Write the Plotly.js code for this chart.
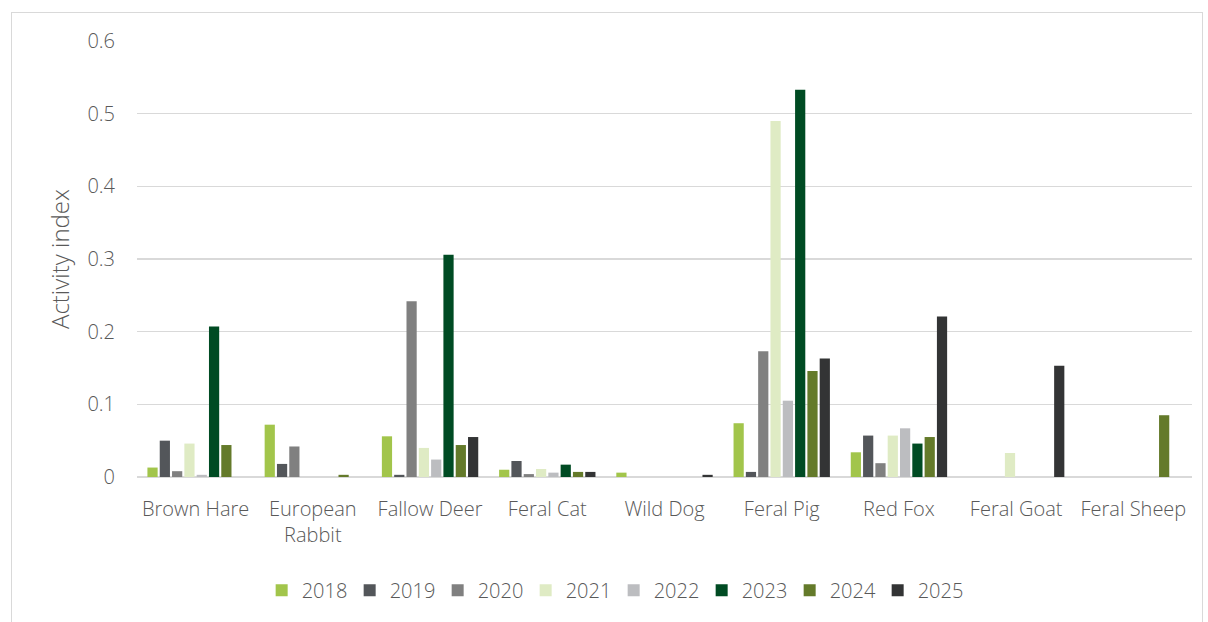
<!DOCTYPE html>
<html>
<head>
<meta charset="utf-8">
<script src="https://cdn.plot.ly/plotly-3.0.1.min.js"></script>
<style>
  html, body { margin: 0; padding: 0; background: #fff; }
  #wrap { position: relative; width: 1208px; height: 622px; overflow: hidden; }
  #frame { position: absolute; left: 11px; top: 12px; width: 1192px; height: 640px;
           border: 1.5px solid #D9D9D9; box-sizing: border-box; pointer-events: none; }
  #chart { position: absolute; left: 0; top: 0; width: 1208px; height: 622px; }
</style>
</head>
<body>
<div id="wrap">
  <div id="chart"></div>
  <div id="frame"></div>
</div>
<script>
// Species surveyed (x categories)
const species = ["Brown Hare", "European<br>Rabbit", "Fallow Deer", "Feral Cat", "Wild Dog",
                 "Feral Pig", "Red Fox", "Feral Goat", "Feral Sheep"];

// Survey years (one series each)
const years = ["2018", "2019", "2020", "2021", "2022", "2023", "2024", "2025"];

// Activity index per species, one array per year
const y2018 = [0.013, 0.072, 0.056, 0.010, 0.006, 0.074, 0.034, 0, 0];
const y2019 = [0.050, 0.018, 0.003, 0.022, 0, 0.007, 0.057, 0, 0];
const y2020 = [0.008, 0.042, 0.242, 0.004, 0, 0.173, 0.019, 0, 0];
const y2021 = [0.046, 0, 0.040, 0.011, 0, 0.490, 0.057, 0.033, 0];
const y2022 = [0.003, 0, 0.024, 0.006, 0, 0.105, 0.067, 0, 0];
const y2023 = [0.207, 0, 0.306, 0.017, 0, 0.533, 0.046, 0, 0];
const y2024 = [0.044, 0.003, 0.044, 0.007, 0, 0.146, 0.055, 0, 0.085];
const y2025 = [0, 0, 0.055, 0.007, 0.003, 0.163, 0.221, 0.153, 0];

const seriesValues = [y2018, y2019, y2020, y2021, y2022, y2023, y2024, y2025];
const colors = ["#A2C54B", "#53565A", "#808080", "#DFEBC4", "#BCBDC0", "#004B23", "#647A2A", "#333435"];

const textColor = "#595959";
const fontFamily = "'Open Sans', 'Noto Sans', sans-serif";

const traces = years.map((yr, i) => ({
  type: "bar",
  name: yr,
  x: species,
  y: seriesValues[i],
  marker: { color: colors[i], line: { width: 0 } },
  hoverinfo: "x+y+name"
}));

const layout = {
  width: 1208,
  height: 622,
  margin: { l: 137, r: 16, t: 41, b: 145 },
  paper_bgcolor: "rgba(0,0,0,0)",
  plot_bgcolor: "#fff",
  barmode: "group",
  bargap: 0.16,
  bargroupgap: 0.17,
  font: { family: fontFamily, color: textColor, size: 20, weight: 300 },
  xaxis: {
    type: "category",
    showgrid: false,
    showline: false,
    ticks: "",
    ticklabelstandoff: 18,
    tickfont: { size: 20, color: textColor, weight: 300 },
    automargin: false
  },
  yaxis: {
    range: [0, 0.6],
    dtick: 0.1,
    tickformat: "~g",
    showgrid: true,
    gridcolor: "#D9D9D9",
    gridwidth: 1.5,
    zeroline: true,
    zerolinecolor: "#D9D9D9",
    zerolinewidth: 1.5,
    ticks: "",
    ticklen: 0,
    ticklabelstandoff: 21,
    tickfont: { size: 20, color: textColor, weight: 300 },
    title: { text: "Activity index", font: { size: 24, color: textColor, weight: 300 }, standoff: 10 },
    automargin: false
  },
  showlegend: true,
  legend: {
    orientation: "h",
    xref: "container",
    yref: "container",
    x: 0.508,
    xanchor: "center",
    y: 0.051,
    yanchor: "middle",
    font: { size: 20, color: textColor, weight: 300 },
    entrywidth: 43,
    entrywidthmode: "pixels",
    traceorder: "normal"
  }
};

Plotly.newPlot("chart", traces, layout, { displayModeBar: false, staticPlot: true });
</script>
</body>
</html>
